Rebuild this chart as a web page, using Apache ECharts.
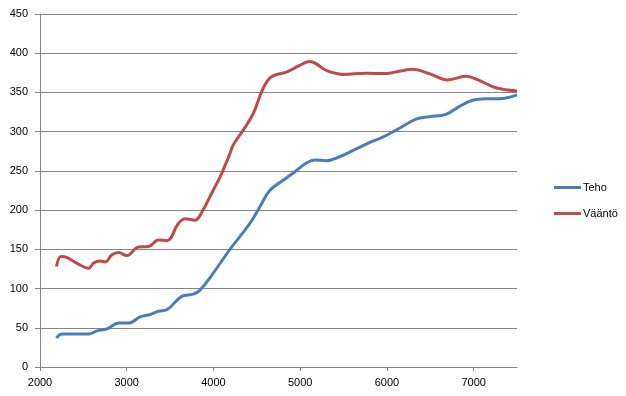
<!DOCTYPE html>
<html>
<head>
<meta charset="utf-8">
<script src="https://cdn.jsdelivr.net/npm/echarts@6/dist/echarts.min.js"></script>
<style>
html,body{margin:0;padding:0;background:#fff;}
#c{width:626px;height:396px;}
</style>
</head>
<body>
<div id="c"></div>
<script>
var seriesNames = ['Teho', 'Vääntö'];
var tehoRpm = [2190, 2255, 2560, 2657, 2772, 2906, 3021, 3155, 3270, 3366, 3462, 3634, 3768, 3845, 4000, 4190, 4420, 4534, 4649, 4803, 4917, 5071, 5167, 5301, 5455, 5646, 5799, 5952, 6106, 6336, 6489, 6680, 6833, 6986, 7140, 7293, 7500];
var tehoValues = [37, 42, 42, 46, 48.5, 56, 56, 64, 67, 71, 73, 90, 93, 98, 120, 150, 183, 204, 225, 238, 247, 260, 264, 263, 268, 278, 286, 293, 302, 316, 319, 322, 332, 340, 342, 342, 347];
var vantoRpm = [2190, 2243, 2313, 2428, 2561, 2618, 2695, 2753, 2830, 2906, 3002, 3136, 3251, 3366, 3462, 3596, 3672, 3787, 3864, 4000, 4075, 4190, 4228, 4343, 4458, 4572, 4669, 4841, 4994, 5109, 5186, 5301, 5492, 5761, 5991, 6138, 6297, 6489, 6700, 6910, 7063, 7255, 7500];
var vantoValues = [128, 141, 139.5, 132, 126, 132.5, 135, 134, 143, 146, 142, 153, 153.5, 162, 161, 183, 189, 187, 197, 226, 242, 272, 283, 302, 323, 355, 370, 376, 384.5, 389.5, 386.5, 378, 373, 374.5, 374, 377, 379.5, 374, 366, 370.5, 365.5, 356, 352];

function pairs(xs, ys) { return xs.map(function (x, i) { return [x, ys[i]]; }); }

var font = 'Liberation Sans';
var chart = echarts.init(document.getElementById('c'), null, {renderer: 'canvas'});
chart.setOption({
  animation: false,
  backgroundColor: '#ffffff',
  grid: {left: 40, top: 14, width: 477, height: 353, containLabel: false},
  xAxis: {
    type: 'value', min: 2000, max: 7500, interval: 1000,
    axisLine: {show: true, lineStyle: {color: '#868686', width: 1}},
    axisTick: {show: true, length: 4, lineStyle: {color: '#868686'}},
    axisLabel: {color: '#000', fontFamily: font, fontSize: 11, margin: 10, showMaxLabel: false,
                formatter: function (v) { return String(v); }},
    splitLine: {show: false}
  },
  yAxis: {
    type: 'value', min: 0, max: 450, interval: 50,
    axisLine: {show: true, lineStyle: {color: '#868686', width: 1}},
    axisTick: {show: true, length: 5, lineStyle: {color: '#868686'}},
    axisLabel: {color: '#000', fontFamily: font, fontSize: 11, margin: 12},
    splitLine: {show: true, lineStyle: {color: '#868686', width: 1}}
  },
  legend: {
    orient: 'vertical', left: 549, top: 177, itemWidth: 27, itemHeight: 3, itemGap: 15,
    icon: 'rect',
    textStyle: {color: '#000', fontFamily: font, fontSize: 11, padding: [0, 0, 0, -3]},
    data: seriesNames
  },
  series: [
    {name: seriesNames[0], type: 'line', data: pairs(tehoRpm, tehoValues), smooth: 0.4, showSymbol: false,
     lineStyle: {color: '#4A7EBB', width: 3}, itemStyle: {color: '#4A7EBB'}},
    {name: seriesNames[1], type: 'line', data: pairs(vantoRpm, vantoValues), smooth: 0.4, showSymbol: false,
     lineStyle: {color: '#BE4B48', width: 3}, itemStyle: {color: '#BE4B48'}}
  ]
});
</script>
</body>
</html>
